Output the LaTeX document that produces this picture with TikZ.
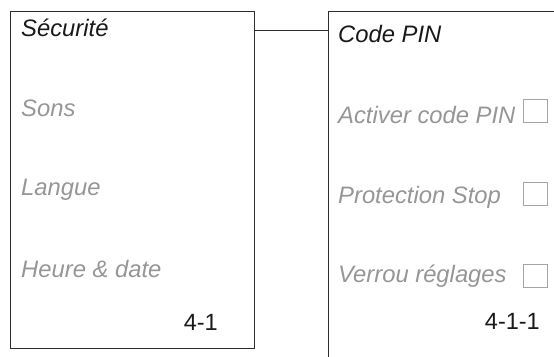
\documentclass[tikz,border=0pt]{standalone}
\usepackage{fontspec}
\setmainfont{Liberation Sans}
\definecolor{itemgray}{RGB}{150,150,150}
\definecolor{framegray}{RGB}{45,45,45}
\definecolor{boxgray}{RGB}{165,165,165}
\begin{document}
\begin{tikzpicture}[x=1pt, y=-1pt,
		screen/.style={rectangle, draw=framegray, line width=1pt, anchor=north west, inner sep=0},
		head/.style={anchor=base west, inner sep=0, font=\fontsize{23.8}{28}\selectfont\itshape, text=black!90},
		entry/.style={head, text=itemgray},
		num/.style={anchor=base east, inner sep=0, font=\fontsize{23.5}{28}\selectfont, text=black!90},
		chk/.style={rectangle, draw=boxgray, line width=0.9pt, anchor=north west, inner sep=0, minimum width=24, minimum height=23},
		link/.style={draw=framegray, line width=1pt}
		]
		\clip (0,0) rectangle (554,356);
		
		%Screens
		\node[screen, minimum width=244, minimum height=337]	(secu)	at (10, 11)		{};
		\node[screen, minimum width=300, minimum height=400]	(pin)	at (328, 11)	{};
		
		%Left menu
		\node[head]		(tsecu)		at (21, 36)		{Sécurité};
		\node[entry]	(sons)		at (21, 116)	{Sons};
		\node[entry]	(langue)	at (21, 195)	{Langue};
		\node[entry]	(heure)		at (21, 277)	{Heure \& date};
		\node[num]		(nsecu)		at (218, 330)	{4-1};
		
		%Right menu
		\node[head]		(tpin)		at (338, 42)	{Code PIN};
		\node[entry]	(activer)	at (338, 123)	{Activer code PIN};
		\node[entry]	(stop)		at (338, 203)	{Protection Stop};
		\node[entry]	(verrou)	at (338, 282)	{Verrou réglages};
		\node[num]		(npin)		at (540, 329)	{4-1-1};
		
		\node[chk]		(c1)	at (523, 99)	{};
		\node[chk]		(c2)	at (523, 182)	{};
		\node[chk]		(c3)	at (523, 264)	{};
		
		%Lines
		\draw[link] ([yshift=-19pt]secu.north east) -- ([yshift=-19pt]pin.north west);
		
	\end{tikzpicture}
\end{document}
